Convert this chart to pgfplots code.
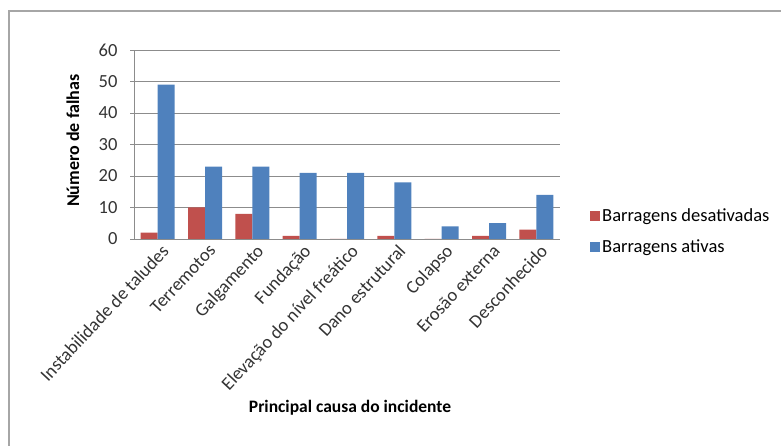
\documentclass[border=0pt]{standalone}
\usepackage{pgfplots}
\pgfplotsset{compat=1.18}
\usepackage{fontspec}
\setmainfont{Carlito}
\definecolor{exred}{HTML}{C0504D}
\definecolor{exblue}{HTML}{4F81BD}
\definecolor{gridc}{HTML}{8C8C8C}
\definecolor{framec}{HTML}{A6A6A6}
\begin{document}
\begin{tikzpicture}[x=1pt,y=1pt]
\useasboundingbox (0,0) rectangle (781,446);
\draw[framec,line width=1.5pt] (9,0) -- (9,435) -- (781,435);
\begin{axis}[
  at={(134pt,207pt)}, anchor=south west,
  scale only axis, width=426pt, height=189pt,
  xmin=-0.5, xmax=8.5, ymin=0, ymax=60,
  ytick={0,10,...,60},
  xtick={0,...,8},
  xticklabels={Instabilidade de taludes,Terremotos,Galgamento,Fundação,Elevação do nível freático,Dano estrutural,Colapso,Erosão externa,Desconhecido},
  x tick label style={rotate=47, anchor=north east, inner sep=1pt, xshift=3pt, yshift=-1pt, font=\fontsize{18.5}{21}\selectfont},
  major x tick style={draw=none},
  y tick style={gridc, line width=0.8pt},
  y tick label style={xshift=-9pt, font=\fontsize{18.5}{21}\selectfont},
  tick align=outside, major tick length=4pt,
  ymajorgrids, grid style={gridc, line width=0.9pt},
  axis x line*=bottom, axis y line*=left,
  axis line style={gridc, line width=0.9pt, -},
  ticklabel style={text=black!80},
  /pgf/number format/assume math mode=true,
  ylabel={\textbf{Número de falhas}},
  ylabel style={font=\fontsize{18}{20}\selectfont, at={(axis description cs:0,0.52)}, anchor=center, yshift=61pt},
  xlabel={\textbf{Principal causa do incidente}},
  xlabel style={font=\fontsize{17.5}{20}\selectfont, at={(axis description cs:0.5,0)}, anchor=center, yshift=-169pt, xshift=3pt},
  ybar=0pt, bar width=17pt,
  legend style={at={(1,0.04)}, anchor=west, xshift=30pt, draw=none, fill=none,
    font=\fontsize{18.5}{21}\selectfont, row sep=13pt, inner sep=0pt,
    /tikz/every even column/.append style={column sep=4pt}},
  legend cell align=left,
]
\addplot[fill=exred, draw=none, area legend, legend image code/.code={\fill[exred] (0pt,-5pt) rectangle (10pt,5pt);}] coordinates {(0,2) (1,10) (2,8) (3,1) (4,0) (5,1) (6,0) (7,1) (8,3)};
\addplot[fill=exblue, draw=none, area legend, legend image code/.code={\fill[exblue] (0pt,-5pt) rectangle (10pt,5pt);}] coordinates {(0,49) (1,23) (2,23) (3,21) (4,21) (5,18) (6,4) (7,5) (8,14)};
\legend{Barragens desativadas, Barragens ativas}
\end{axis}
\end{tikzpicture}
\end{document}
